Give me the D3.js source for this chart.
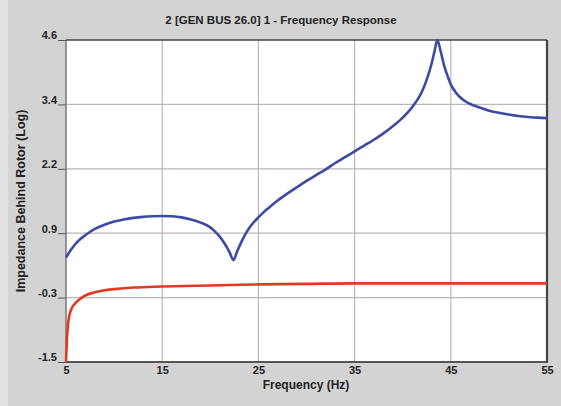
<!DOCTYPE html>
<html>
<head>
<meta charset="utf-8">
<script src="https://cdn.jsdelivr.net/npm/d3@7"></script>
<style>
  html, body { margin: 0; padding: 0; background: #d3d3d3; }
  svg { display: block; font-family: Arial, "Liberation Sans", sans-serif; }
  .tick text { font-size: 11px; font-weight: bold; fill: #222; }
</style>
</head>
<body>
<svg id="chart" width="561" height="406"></svg>
<script>
// frequency response
var title = "2 [GEN BUS 26.0] 1 - Frequency Response";
var xTicks = [5, 15, 25, 35, 45, 55];
var yTickLabels = ["-1.5", "-0.3", "0.9", "2.2", "3.4", "4.6"];

var blueFreq = [5, 5.5, 6, 6.5, 7, 8, 9, 10, 11, 12, 13, 14, 15, 16, 17, 18, 19, 20, 20.5, 21, 21.5, 22, 22.4,
  22.8, 23.3, 23.8, 24.3, 25, 25.5, 26, 27, 28, 29, 30, 31, 32, 33, 34, 35, 36, 37, 38, 39, 40, 41, 42, 42.5, 43, 43.3,
  43.6, 43.9, 44.3, 44.7, 45, 45.5, 46, 46.5, 47, 48, 49, 50, 51, 52, 53, 54, 55];
var blueVals = [0.48, 0.62, 0.74, 0.83, 0.9, 1.02, 1.1, 1.16, 1.2, 1.23, 1.25, 1.26, 1.265, 1.26, 1.24, 1.2, 1.14, 1.05, 0.97, 0.87, 0.74, 0.58, 0.43,
  0.6, 0.8, 0.97, 1.1, 1.24, 1.33, 1.41, 1.56, 1.69, 1.81, 1.93, 2.04, 2.15, 2.27, 2.38, 2.49, 2.6, 2.71, 2.83, 2.97, 3.13, 3.33, 3.62, 3.85, 4.15, 4.38,
  4.6, 4.42, 4.12, 3.9, 3.76, 3.61, 3.51, 3.44, 3.39, 3.32, 3.26, 3.22, 3.19, 3.16, 3.14, 3.13, 3.12];

var redFreq = [5, 5.1, 5.2, 5.35, 5.6, 6, 6.5, 7, 8, 9, 10, 12, 15, 20, 25, 30, 35, 40, 45, 50, 55];
var redVals = [-1.5, -1.05, -0.8, -0.62, -0.48, -0.38, -0.3, -0.24, -0.18, -0.14, -0.12, -0.09, -0.07, -0.05, -0.03, -0.02, -0.01, -0.01, -0.01, -0.01, -0.01];

var margin = { left: 66, right: 14, top: 40, bottom: 44 };
var W = 561, H = 406;
var svg = d3.select('#chart');

var x = d3.scaleLinear().domain([5, 55]).range([margin.left, W - margin.right]);
var y = d3.scaleLinear().domain([-1.5, 4.6]).range([H - margin.bottom, margin.top]);
var yTicks = d3.range(6).map(function (i) { return -1.5 + i * 6.1 / 5; });

// left light strip like the window edge
svg.append('rect').attr('x', 0).attr('y', 0).attr('width', 8).attr('height', H).attr('fill', '#e2e2e2');

// plot background
svg.append('rect')
  .attr('x', x(5)).attr('y', y(4.6))
  .attr('width', x(55) - x(5)).attr('height', y(-1.5) - y(4.6))
  .attr('fill', '#fff');

// grid
svg.append('g').selectAll('line').data(xTicks.slice(1, -1)).enter().append('line')
  .attr('x1', function (d) { return x(d); }).attr('x2', function (d) { return x(d); })
  .attr('y1', y(4.6)).attr('y2', y(-1.5))
  .attr('stroke', '#bdb6b6').attr('stroke-width', 1.2);
svg.append('g').selectAll('line').data(yTicks.slice(1, -1)).enter().append('line')
  .attr('x1', x(5)).attr('x2', x(55))
  .attr('y1', function (d) { return y(d); }).attr('y2', function (d) { return y(d); })
  .attr('stroke', '#bdb6b6').attr('stroke-width', 1.2);

// axes
var yAxis = d3.axisLeft(y).tickValues(yTicks).tickSize(8).tickPadding(1)
  .tickFormat(function (d, i) { return yTickLabels[i]; });
var gy = svg.append('g').attr('transform', 'translate(' + x(5) + ',0)').call(yAxis);
gy.select('.domain').remove();
gy.selectAll('.tick line').attr('stroke', '#555');
gy.selectAll('.tick text').attr('dy', '-0.1em');

var xAxis = d3.axisBottom(x).tickValues(xTicks).tickSize(0).tickPadding(4).tickFormat(d3.format('d'));
var gx = svg.append('g').attr('transform', 'translate(0,' + y(-1.5) + ')').call(xAxis);
gx.select('.domain').remove();

// frame
svg.append('line').attr('x1', x(5)).attr('x2', x(5)).attr('y1', y(4.6)).attr('y2', y(-1.5))
  .attr('stroke', '#777').attr('stroke-width', 1.5);
svg.append('line').attr('x1', x(5)).attr('x2', x(55)).attr('y1', y(4.6)).attr('y2', y(4.6))
  .attr('stroke', '#444').attr('stroke-width', 1.5);
svg.append('line').attr('x1', x(5)).attr('x2', x(55) + 1).attr('y1', y(-1.5)).attr('y2', y(-1.5))
  .attr('stroke', '#555').attr('stroke-width', 2.2);
svg.append('line').attr('x1', x(55)).attr('x2', x(55)).attr('y1', y(4.6)).attr('y2', y(-1.5))
  .attr('stroke', '#444').attr('stroke-width', 2.2);

// curves
var line = d3.line()
  .x(function (d) { return x(d[0]); })
  .y(function (d) { return y(d[1]); })
  .curve(d3.curveMonotoneX);

svg.append('path')
  .datum(redFreq.map(function (f, i) { return [f, redVals[i]]; }))
  .attr('d', line).attr('fill', 'none')
  .attr('stroke', '#e03a22').attr('stroke-width', 2.6);

svg.append('path')
  .datum(blueFreq.map(function (f, i) { return [f, blueVals[i]]; }))
  .attr('d', line).attr('fill', 'none')
  .attr('stroke', '#3c4aa4').attr('stroke-width', 2.6);

// labels
svg.append('text').attr('x', 281).attr('y', 24).attr('text-anchor', 'middle')
  .attr('font-size', 11.5).attr('font-weight', 'bold').attr('fill', '#222').text(title);
svg.append('text').attr('x', 306).attr('y', 389).attr('text-anchor', 'middle')
  .attr('font-size', 12).attr('font-weight', 'bold').attr('fill', '#222').text('Frequency (Hz)');
svg.append('text').attr('transform', 'translate(25,' + (y(-1.5) + y(4.6)) / 2 + ') rotate(-90)')
  .attr('text-anchor', 'middle')
  .attr('font-size', 12.5).attr('font-weight', 'bold').attr('fill', '#222').text('Impedance Behind Rotor (Log)');
</script>
</body>
</html>
